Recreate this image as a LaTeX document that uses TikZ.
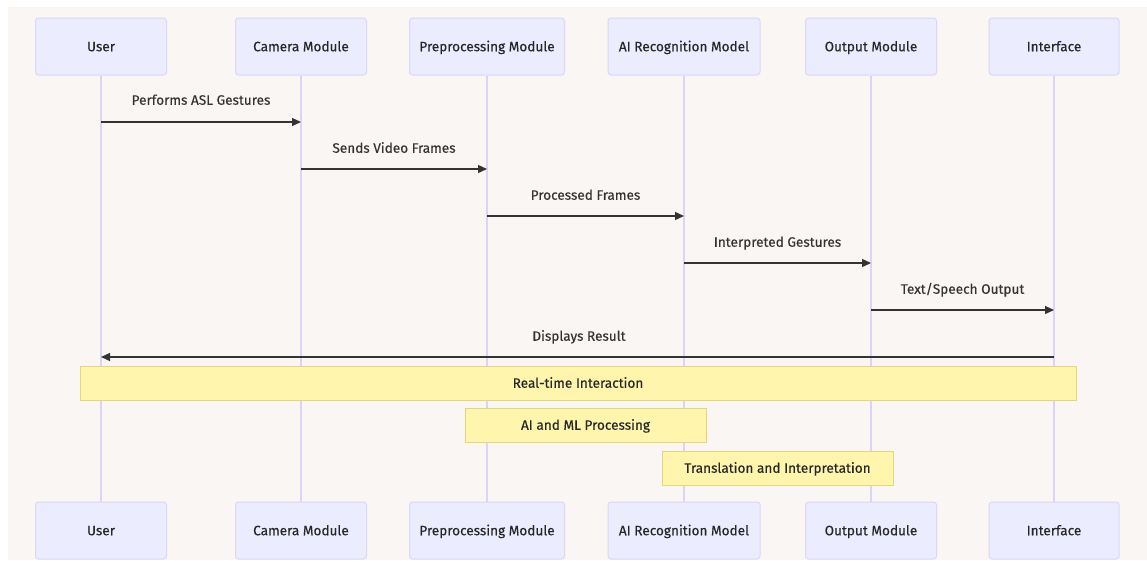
\documentclass[tikz,border=0pt]{standalone}
\usepackage{fontspec}
\setmainfont{Fira Sans}[FakeBold=0.25]
\usetikzlibrary{arrows.meta}
\definecolor{bg}{HTML}{F9F6F3}
\definecolor{actfill}{HTML}{ECECFF}
\definecolor{actdraw}{HTML}{DCD6F7}
\definecolor{life}{HTML}{DCD3F5}
\definecolor{notefill}{HTML}{FFF5AD}
\definecolor{notedraw}{HTML}{E3D77C}
\definecolor{txt}{HTML}{333333}
\begin{document}
\begin{tikzpicture}[x=1pt,y=-1pt,
  actor/.style={draw=actdraw, fill=actfill, rounded corners=3pt, minimum height=57pt, line width=1pt, inner sep=0pt, text height=11pt, text depth=1.5pt, font=\fontsize{13.6}{15}\selectfont, text=black!85},
  lifeline/.style={draw=life, line width=1.5pt},
  msg/.style={draw=txt, line width=1.3pt, -{Triangle[length=9pt,width=8pt]}},
  mlabel/.style={font=\fontsize{13.6}{15}\selectfont, text=txt, inner sep=0pt, text height=11pt, text depth=1.5pt},
  note/.style={draw=notedraw, fill=notefill, line width=1pt, minimum height=34pt, inner sep=0pt, text height=11pt, text depth=1.5pt, font=\fontsize{13.6}{15}\selectfont, text=black!85}]
\useasboundingbox (0,0) rectangle (1147,562);
\fill[white] (0,0) rectangle (1147,562);
\fill[bg] (8,7) rectangle (1147,560);
% top actors
\node[actor, minimum width=131pt] (uT) at (101,46.5) {User};
\node[actor, minimum width=131pt] (cT) at (301,46.5) {Camera Module};
\node[actor, minimum width=155pt] (pT) at (487,46.5) {Preprocessing Module};
\node[actor, minimum width=152pt] (aT) at (684,46.5) {AI Recognition Model};
\node[actor, minimum width=131pt] (oT) at (871,46.5) {Output Module};
\node[actor, minimum width=130pt] (iT) at (1054,46.5) {Interface};
% bottom actors
\node[actor, minimum width=131pt] (uB) at (101,530.5) {User};
\node[actor, minimum width=131pt] (cB) at (301,530.5) {Camera Module};
\node[actor, minimum width=155pt] (pB) at (487,530.5) {Preprocessing Module};
\node[actor, minimum width=152pt] (aB) at (684,530.5) {AI Recognition Model};
\node[actor, minimum width=131pt] (oB) at (871,530.5) {Output Module};
\node[actor, minimum width=130pt] (iB) at (1054,530.5) {Interface};
% lifelines
\foreach \n in {u,c,p,a,o,i} \draw[lifeline] (\n T.south) -- (\n B.north);
% messages
\draw[msg] (uT.south |- 0,122) -- (cT.south |- 0,122);
\node[mlabel] (l1) at (201,100) {Performs ASL Gestures};
\draw[msg] (cT.south |- 0,169) -- (pT.south |- 0,169);
\node[mlabel] (l2) at (394,148) {Sends Video Frames};
\draw[msg] (pT.south |- 0,216) -- (aT.south |- 0,216);
\node[mlabel] (l3) at (585.5,195) {Processed Frames};
\draw[msg] (aT.south |- 0,263) -- (oT.south |- 0,263);
\node[mlabel] (l4) at (777.5,242) {Interpreted Gestures};
\draw[msg] (oT.south |- 0,310) -- (iT.south |- 0,310);
\node[mlabel] (l5) at (962.5,289) {Text/Speech Output};
\draw[msg] (iT.south |- 0,357) -- (uT.south |- 0,357);
\node[mlabel] (l6) at (579,336) {Displays Result};
% notes
\node[note, minimum width=996pt] (n1) at (578,383) {Real-time Interaction};
\node[note, minimum width=241pt] (n2) at (585.5,425) {AI and ML Processing};
\node[note, minimum width=231pt] (n3) at (777.5,468) {Translation and Interpretation};
\end{tikzpicture}
\end{document}
